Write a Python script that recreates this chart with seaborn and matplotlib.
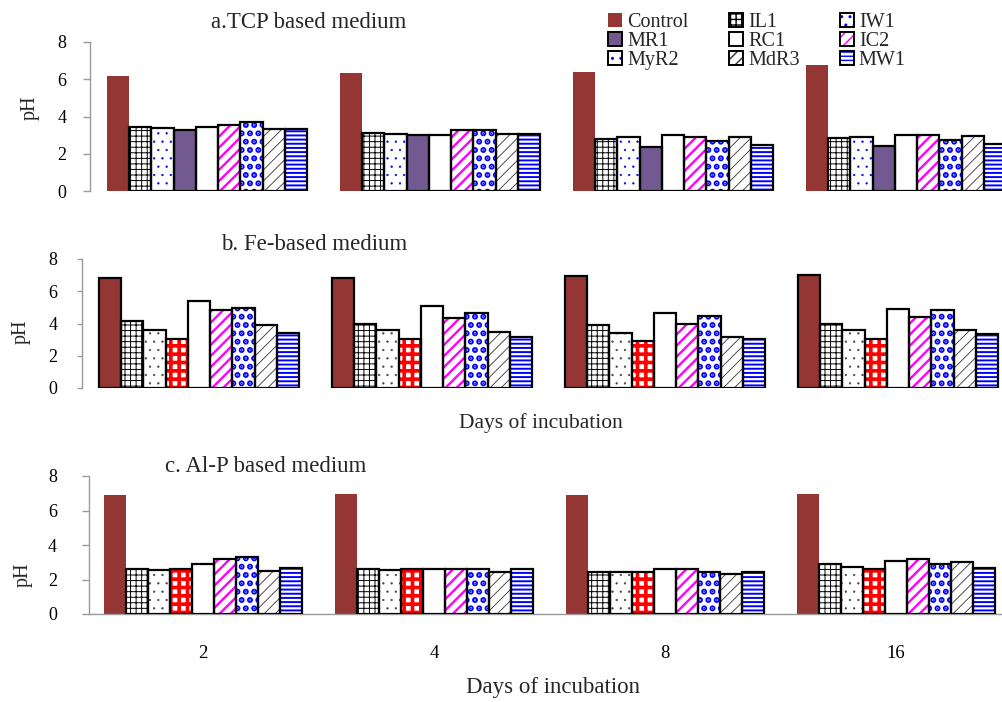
import numpy as np
import pandas as pd
import matplotlib
matplotlib.use("Agg")
import matplotlib.pyplot as plt
from matplotlib.patches import Rectangle, Patch
import seaborn as sns

# days of incubation and isolates
days = ["2", "4", "8", "16"]
isolates = ["Control", "IL1", "IW1", "MR1", "RC1", "IC2", "MyR2", "MdR3", "MW1"]

# pH values, one row per day (2, 4, 8, 16), columns in isolate order
ph_tcp = [
    [6.20, 3.45, 3.37, 3.28, 3.42, 3.53, 3.71, 3.31, 3.31],
    [6.31, 3.10, 3.07, 3.01, 3.00, 3.26, 3.26, 3.07, 3.07],
    [6.38, 2.80, 2.89, 2.37, 3.01, 2.89, 2.69, 2.89, 2.46],
    [6.76, 2.85, 2.90, 2.42, 3.01, 3.01, 2.76, 2.96, 2.53],
]
ph_fe = [
    [6.82, 4.17, 3.57, 3.05, 5.38, 4.84, 4.98, 3.89, 3.39],
    [6.82, 3.97, 3.57, 3.01, 5.11, 4.32, 4.67, 3.45, 3.16],
    [6.92, 3.91, 3.39, 2.89, 4.67, 3.97, 4.49, 3.18, 3.01],
    [6.98, 3.97, 3.60, 3.03, 4.90, 4.40, 4.82, 3.60, 3.35],
]
ph_alp = [
    [6.90, 2.63, 2.56, 2.63, 2.88, 3.19, 3.29, 2.50, 2.65],
    [6.96, 2.60, 2.56, 2.60, 2.60, 2.63, 2.63, 2.46, 2.60],
    [6.90, 2.46, 2.42, 2.46, 2.60, 2.60, 2.46, 2.33, 2.46],
    [6.96, 2.88, 2.73, 2.60, 3.06, 3.19, 2.88, 3.00, 2.65],
]

titles = ["a.TCP based medium", "b. Fe-based medium", "c. Al-P based medium"]

BROWN = "#943634"
PURPLE = "#72598f"

# style: (face, hatch, hatch colour, hatch lw, black outline)
base_style = {
    "Control": (BROWN, "", BROWN, 0, False),
    "IL1": ("white", "+++", "black", 0.7, True),
    "IW1": ("white", "..", "blue", 0.4, True),
    "MR1": (PURPLE, "", PURPLE, 0, True),
    "RC1": ("white", "", "white", 0, True),
    "IC2": ("white", "///", "#ff00ff", 1.7, True),
    "MyR2": ("white", "..", "blue", 3.0, True),
    "MdR3": ("white", "///", "#333333", 0.6, True),
    "MW1": ("white", "----", "blue", 1.4, True),
}

sns.set_theme(style="ticks")
plt.rcParams["font.family"] = ["Liberation Serif", "DejaVu Serif"]

W, H = 1003, 702
fig = plt.figure(figsize=(W / 100, H / 100), dpi=100)


def panel_styles(k):
    st = dict(base_style)
    if k > 0:
        st["MR1"] = ("white", "++", "red", 2.6, True)
        st["IW1"] = ("white", "..", "#444444", 0.4, True)
    if k == 1:
        st["Control"] = (BROWN, "", BROWN, 0, True)
    return st


# layout in pixels: axis left, first group centre, group spacing, top, bottom
layout = [
    (90, 207, 233, 42, 191),
    (82, 199, 233, 259, 388),
    (89, 203, 231, 476, 614),
]
tick_pads = [12, 14, 18]
tick_lens = [5, 3.6, 5]

for k, (vals, (L, c0, s, top, bot)) in enumerate(zip([ph_tcp, ph_fe, ph_alp], layout)):
    ax = fig.add_axes([L / W, 1 - bot / H, (W - L) / W, (bot - top) / H])
    df = pd.DataFrame(vals, index=days, columns=isolates)
    df = df.reset_index(names="day").melt(id_vars="day", var_name="isolate", value_name="pH")
    st = panel_styles(k)
    sns.barplot(data=df, x="day", y="pH", hue="isolate", order=days, hue_order=isolates,
                palette=[st[i][0] for i in isolates], saturation=1, width=0.86,
                errorbar=None, legend=False, ax=ax)
    for cont, iso in zip(ax.containers, isolates):
        face, hatch, hcol, hlw, outline = st[iso]
        for bar in cont:
            bar.set_facecolor(face)
            bar.set_edgecolor(hcol)
            bar.set_linewidth(0)
            if hatch:
                bar.set_hatch(hatch)
                if hasattr(bar, "set_hatch_linewidth"):
                    bar.set_hatch_linewidth(hlw)
            if outline:
                ax.add_patch(Rectangle(bar.get_xy(), bar.get_width(), bar.get_height(),
                                       fill=False, edgecolor="black", linewidth=1.6, zorder=3))
    ax.set_xlim((L - c0) / s, (W - c0) / s)
    ax.set_ylim(0, 8)
    ax.set_yticks([0, 2, 4, 6, 8])
    ax.set_xlabel("")
    ax.set_ylabel("")
    for side in ["top", "right"]:
        ax.spines[side].set_visible(False)
    ax.spines["left"].set_color("#9a9a9a")
    ax.spines["left"].set_linewidth(1.0)
    ax.tick_params(axis="y", length=tick_lens[k], width=1.0, color="#9a9a9a", pad=tick_pads[k],
                   labelsize=13, labelcolor="black")
    if k < 2:
        ax.spines["bottom"].set_visible(False)
        ax.tick_params(axis="x", bottom=False, labelbottom=False)
    else:
        ax.spines["bottom"].set_color("#9a9a9a")
        ax.spines["bottom"].set_linewidth(1.0)
        ax.tick_params(axis="x", length=0, pad=22, labelsize=13.5, labelcolor="black")

# panel titles, axis labels
fig.text(309 / W, 1 - 23 / H, titles[0], ha="center", va="center", fontsize=16.5)
fig.text(314 / W, 1 - 245 / H, titles[1], ha="center", va="center", fontsize=16.5)
fig.text(266 / W, 1 - 467 / H, titles[2], ha="center", va="center", fontsize=16.5)
for x, y in [(30, 108), (21, 332), (23, 575)]:
    fig.text(x / W, 1 - y / H, "pH", rotation=90, ha="center", va="center", fontsize=14.5)
fig.text(541 / W, 1 - 423 / H, "Days of incubation", ha="center", va="center", fontsize=15.5)
fig.text(553 / W, 1 - 688 / H, "Days of incubation", ha="center", va="center", fontsize=16.5)

# legend (row-wise order)
handles = []
for iso in isolates:
    face, hatch, hcol, hlw, outline = base_style[iso]
    fillp = Patch(facecolor=face, edgecolor=hcol, hatch=hatch, linewidth=0)
    if hatch and hasattr(fillp, "set_hatch_linewidth"):
        fillp.set_hatch_linewidth(min(hlw, 1.5))
    if outline:
        handles.append((fillp, Patch(fill=False, edgecolor="black", linewidth=1.4)))
    else:
        handles.append(fillp)
order = [0, 3, 6, 1, 4, 7, 2, 5, 8]
fig.legend([handles[i] for i in order], [isolates[i] for i in order], ncol=3,
           loc="upper left", bbox_to_anchor=(598 / W, 1 - 3 / H), frameon=False,
           fontsize=14.5, handlelength=0.7, handleheight=0.7, handletextpad=0.25,
           columnspacing=2.0, labelspacing=0.0, borderpad=0)

fig.savefig("out.png", dpi=100)
